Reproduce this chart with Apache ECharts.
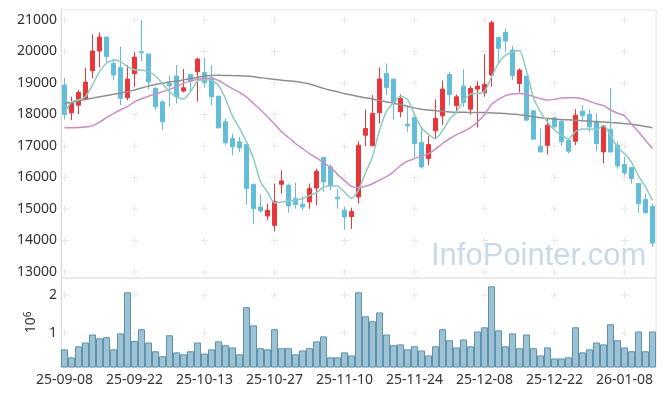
<!DOCTYPE html>
<html>
<head>
<meta charset="utf-8">
<script src="https://cdn.jsdelivr.net/npm/echarts@6/dist/echarts.min.js"></script>
<style>html,body{margin:0;padding:0;background:#fff}#c{width:665px;height:396px}</style>
</head>
<body>
<div id="c"></div>
<script>
// Trading days (KRX), 2025-09-08 .. 2026-01-14
const dates = [
 '25-09-08','25-09-09','25-09-10','25-09-11','25-09-12','25-09-15','25-09-16','25-09-17','25-09-18','25-09-19',
 '25-09-22','25-09-23','25-09-24','25-09-25','25-09-26','25-09-29','25-09-30','25-10-01','25-10-02','25-10-10',
 '25-10-13','25-10-14','25-10-15','25-10-16','25-10-17','25-10-20','25-10-21','25-10-22','25-10-23','25-10-24',
 '25-10-27','25-10-28','25-10-29','25-10-30','25-10-31','25-11-03','25-11-04','25-11-05','25-11-06','25-11-07',
 '25-11-10','25-11-11','25-11-12','25-11-13','25-11-14','25-11-17','25-11-18','25-11-19','25-11-20','25-11-21',
 '25-11-24','25-11-25','25-11-26','25-11-27','25-11-28','25-12-01','25-12-02','25-12-03','25-12-04','25-12-05',
 '25-12-08','25-12-09','25-12-10','25-12-11','25-12-12','25-12-15','25-12-16','25-12-17','25-12-18','25-12-19',
 '25-12-22','25-12-23','25-12-24','25-12-26','25-12-29','25-12-30','26-01-02','26-01-05','26-01-06','26-01-07',
 '26-01-08','26-01-09','26-01-12','26-01-13','26-01-14'
];
const openP = [
 18933,18053,18297,18477,19389,20014,20459,19622,19495,18530,
 19293,19990,19919,18827,18400,18986,19219,18742,19272,19357,
 19336,19166,18583,17767,17237,17131,17046,15785,15064,14778,
 14481,15785,15753,15329,15149,15223,15668,16633,16336,15376,
 14958,14760,15382,17343,17004,18053,19304,19124,18085,17693,
 17905,17110,16601,17481,17958,19272,18276,18901,18170,18806,
 18689,19251,20449,20608,20046,18986,19219,18117,16993,17020,
 17894,17788,17184,17152,18106,18011,17788,16813,17534,17025,
 16410,16315,15806,15307,15085
];
const closeP = [
 18000,18350,18700,19028,20014,20459,19834,19251,18509,19124,
 19823,19960,19039,18244,17770,18912,18562,18848,19060,19760,
 19017,18562,17575,17100,16972,16940,15647,15011,14937,14958,
 15244,15891,15096,15138,15064,15647,16198,15859,15753,15323,
 14746,14920,17025,17555,18032,19124,18859,18382,18509,17640,
 17078,16336,17046,17873,18806,18636,18562,18382,18827,18901,
 18954,20915,20099,20332,19230,19410,17820,17216,16813,17660,
 17608,17131,16834,17979,17960,17608,17078,17640,16813,16368,
 16144,15965,15170,14883,13918
];
const lowP = [
 17841,17820,18000,18450,19145,19495,19622,19081,18297,18456,
 18880,19680,18806,18138,17502,18244,18350,18700,18742,18403,
 18848,18297,17575,17025,16707,16812,15137,14534,14883,14640,
 14290,15488,14883,15011,14958,15011,15117,15541,15594,15011,
 14343,14370,15170,16993,17004,17713,18615,17820,17915,17449,
 16601,16283,16389,17216,17661,18297,18032,18244,18000,17587,
 18562,18880,19643,19993,19092,18700,17820,17216,16800,16728,
 17555,17004,16760,17025,17767,17449,16834,16442,16790,16283,
 16071,15806,14883,14850,13791
];
const highP = [
 19166,18562,18774,19484,20544,20608,20459,19728,20152,19569,
 19972,21000,19919,18880,18450,19230,19569,19442,19272,19802,
 19802,19569,18583,17873,17396,17290,17046,15785,15467,15170,
 15806,16230,15806,15837,15403,15806,16283,16633,16410,15647,
 15064,15040,17152,18159,18615,19495,19622,19124,18636,18276,
 17905,17608,17322,18477,19081,19357,18636,19442,18901,19060,
 19908,20968,20449,20735,20184,19463,19219,18138,17555,17873,
 17925,17852,17216,18170,18297,18159,18032,17661,18848,17131,
 16653,16315,15806,15488,15170
];
// volume in units of 10^6
const volume = [
 0.57,0.36,0.65,0.75,0.96,0.86,0.89,0.57,0.99,2.07,
 0.79,1.10,0.75,0.52,0.39,0.94,0.49,0.44,0.52,0.75,
 0.46,0.57,0.78,0.68,0.62,0.44,1.68,1.20,0.60,0.57,
 1.10,0.60,0.60,0.44,0.54,0.60,0.78,0.91,0.36,0.36,
 0.49,0.41,2.07,1.44,1.31,1.54,0.96,0.68,0.70,0.57,
 0.65,0.54,0.41,0.65,1.10,0.81,0.62,0.83,0.65,1.04,
 1.15,2.23,1.07,0.65,0.99,0.60,0.96,0.60,0.41,0.62,
 0.33,0.33,0.36,1.15,0.49,0.57,0.75,0.70,1.23,0.81,
 0.62,0.52,1.04,0.52,1.04
];
const ma5 = [
 18035,18400,18470,18570,18940,19360,19625,19740,19680,19520,
 19420,19410,19360,19230,18970,18720,18560,18490,18720,19060,
 19100,19090,18930,18500,17950,17560,17130,16600,15860,15540,
 15190,15220,15250,15280,15330,15430,15520,15700,15730,15730,
 15540,15330,15600,16150,16660,17500,18100,18370,18580,18480,
 18000,17580,17370,17240,17480,17850,18085,18456,18647,18668,
 18721,19198,19622,19887,19972,20030,19380,18540,18085,17760,
 17500,17350,17220,17460,17540,17540,17520,17650,17350,16950,
 16760,16480,16050,15700,15270
];
const ma20 = [
 17580,17580,17585,17600,17640,17760,17900,18030,18150,18250,
 18400,18500,18580,18650,18720,18800,18880,18990,19060,19120,
 19140,19140,19080,18950,18820,18700,18550,18350,18150,17930,
 17700,17450,17270,17080,16920,16760,16620,16470,16320,16100,
 15900,15720,15680,15720,15800,15920,16030,16180,16380,16520,
 16600,16680,16760,16900,17080,17230,17360,17460,17580,17760,
 18000,18320,18480,18600,18650,18670,18640,18570,18500,18460,
 18480,18520,18530,18530,18500,18420,18340,18280,18150,18040,
 17960,17700,17450,17180,16920
];
const ma60 = [
 18350,18390,18430,18480,18520,18560,18600,18640,18680,18720,
 18780,18840,18900,18950,18990,19030,19060,19100,19140,19180,
 19220,19240,19245,19240,19235,19230,19220,19200,19170,19140,
 19120,19090,19070,19050,19010,18970,18900,18830,18770,18720,
 18660,18620,18570,18530,18490,18440,18400,18360,18310,18260,
 18210,18170,18140,18120,18100,18080,18070,18070,18065,18060,
 18060,18050,18040,18030,18010,17990,17960,17930,17900,17870,
 17850,17840,17830,17815,17800,17790,17770,17760,17745,17730,
 17710,17690,17660,17620,17580
];
const priceTicks = [13000,14000,15000,16000,17000,18000,19000,20000,21000];
const volumeTicks = [1,2];
const labelStep = 10;

const FONT = '"Noto Sans", "DejaVu Sans", sans-serif';
const candleData = dates.map((d, i) => [openP[i], closeP[i], lowP[i], highP[i]]);
const xTickIdx = dates.map((d, i) => i).filter(i => i % labelStep === 0);
const crossPrice = [];
xTickIdx.forEach(i => priceTicks.forEach(v => crossPrice.push([i, v])));
const crossVol = [];
xTickIdx.forEach(i => volumeTicks.forEach(v => crossVol.push([i, v])));
const plus = 'path://M3,0H4V3H7V4H4V7H3V4H0V3H3Z';

const chart = echarts.init(document.getElementById('c'), null, {renderer: 'canvas'});
chart.setOption({
  animation: false,
  backgroundColor: '#ffffff',
  textStyle: {fontFamily: FONT},
  grid: [
    {left: 61, right: 9, top: 10, height: 268, show: true, borderColor: '#e4e4e4', borderWidth: 1, backgroundColor: 'transparent'},
    {left: 61, right: 9, top: 278, height: 89, show: true, borderColor: '#e4e4e4', borderWidth: 1, backgroundColor: 'transparent'}
  ],
  xAxis: [
    {type: 'category', gridIndex: 0, data: dates, boundaryGap: true,
     axisLine: {show: false}, axisTick: {show: false}, axisLabel: {show: false}, splitLine: {show: false}},
    {type: 'category', gridIndex: 1, data: dates, boundaryGap: true,
     axisLine: {show: false}, axisTick: {show: false}, splitLine: {show: false},
     axisLabel: {interval: labelStep - 1, color: '#333', fontSize: 14, margin: 6, fontFamily: FONT}}
  ],
  yAxis: [
    {type: 'value', gridIndex: 0, min: 12810, max: 21317, scale: true,
     axisLine: {show: true, lineStyle: {color: '#dcdcdc'}}, axisTick: {show: false}, splitLine: {show: false},
     axisLabel: {customValues: priceTicks, formatter: v => String(v), color: '#333', fontSize: 14, margin: 4, fontFamily: FONT}},
    {type: 'value', gridIndex: 1, min: 0.105, max: 2.447,
     axisLine: {show: true, lineStyle: {color: '#dcdcdc'}}, axisTick: {show: false}, splitLine: {show: false},
     axisLabel: {customValues: volumeTicks, formatter: v => String(v), color: '#333', fontSize: 14, margin: 4, fontFamily: FONT},
     name: '{a|10}{b|6}', nameLocation: 'middle', nameRotate: 90, nameGap: 21,
     nameTextStyle: {color: '#333', rich: {a: {fontSize: 14, fontFamily: FONT, color: '#333'},
                                          b: {fontSize: 10, fontFamily: FONT, color: '#333', verticalAlign: 'top', padding: [0, 0, 6, 0]}}}}
  ],
  graphic: [
    {type: 'text', x: 431, y: 256, z: 0, silent: true,
     style: {text: 'InfoPointer.com', font: '31px "Liberation Sans", Arial, sans-serif', fill: '#c9d9e5', verticalAlign: 'middle'}}
  ],
  series: [
    {type: 'scatter', xAxisIndex: 0, yAxisIndex: 0, data: crossPrice, symbol: plus, symbolSize: 7, silent: true, z: 1,
     itemStyle: {color: '#e2e2e2'}},
    {type: 'scatter', xAxisIndex: 1, yAxisIndex: 1, data: crossVol, symbol: plus, symbolSize: 7, silent: true, z: 1,
     itemStyle: {color: '#e2e2e2'}},
    {type: 'candlestick', xAxisIndex: 0, yAxisIndex: 0, data: candleData, barWidth: 5,
     itemStyle: {color: '#e8363b', color0: '#64bdd8', borderColor: '#e8363b', borderColor0: '#64bdd8', borderWidth: 1}},
    {type: 'line', name: 'MA60', xAxisIndex: 0, yAxisIndex: 0, data: ma60, symbol: 'none', smooth: 0.2,
     lineStyle: {color: '#8f8f8f', width: 1.5}},
    {type: 'line', name: 'MA20', xAxisIndex: 0, yAxisIndex: 0, data: ma20, symbol: 'none', smooth: 0.2,
     lineStyle: {color: '#c98fc5', width: 1.5}},
    {type: 'line', name: 'MA5', xAxisIndex: 0, yAxisIndex: 0, data: ma5, symbol: 'none', smooth: 0.2,
     lineStyle: {color: '#8ccbc1', width: 1.5}},
    {type: 'bar', xAxisIndex: 1, yAxisIndex: 1, data: volume, barWidth: '100%', barCategoryGap: '0%',
     itemStyle: {color: '#9cc2d3', borderColor: '#5f93ad', borderWidth: 1}}
  ]
});
</script>
</body>
</html>
